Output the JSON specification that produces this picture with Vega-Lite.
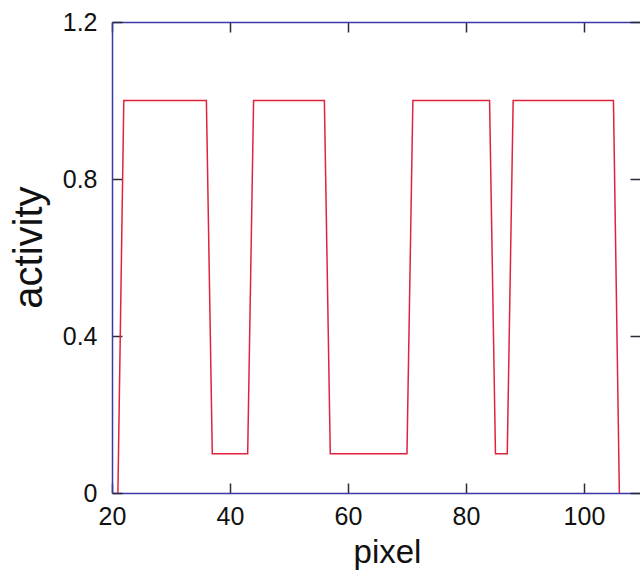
{
  "$schema": "https://vega.github.io/schema/vega-lite/v6.json",
  "autosize": {"type": "none"},
  "padding": {"left": 112, "top": 22, "right": 0, "bottom": 84},
  "width": 528,
  "height": 471,
  "background": "white",
  "config": {
    "view": {"stroke": null},
    "font": "Liberation Sans",
    "axis": {
      "grid": false,
      "labelFont": "Liberation Sans",
      "labelFontSize": 25,
      "labelColor": "#111111",
      "labelFlush": false,
      "labelOverlap": false,
      "titleFont": "Liberation Sans",
      "titleFontWeight": "normal",
      "titleColor": "#111111",
      "domainColor": "#3a3aa6",
      "domainWidth": 1.5,
      "tickColor": "#2a2a3a",
      "tickWidth": 1.5,
      "tickSize": -10
    }
  },
  "data": {
    "values": [
      {"pixel": 21, "activity": 0},
      {"pixel": 22, "activity": 1},
      {"pixel": 23, "activity": 1},
      {"pixel": 24, "activity": 1},
      {"pixel": 25, "activity": 1},
      {"pixel": 26, "activity": 1},
      {"pixel": 27, "activity": 1},
      {"pixel": 28, "activity": 1},
      {"pixel": 29, "activity": 1},
      {"pixel": 30, "activity": 1},
      {"pixel": 31, "activity": 1},
      {"pixel": 32, "activity": 1},
      {"pixel": 33, "activity": 1},
      {"pixel": 34, "activity": 1},
      {"pixel": 35, "activity": 1},
      {"pixel": 36, "activity": 1},
      {"pixel": 37, "activity": 0.1},
      {"pixel": 38, "activity": 0.1},
      {"pixel": 39, "activity": 0.1},
      {"pixel": 40, "activity": 0.1},
      {"pixel": 41, "activity": 0.1},
      {"pixel": 42, "activity": 0.1},
      {"pixel": 43, "activity": 0.1},
      {"pixel": 44, "activity": 1},
      {"pixel": 45, "activity": 1},
      {"pixel": 46, "activity": 1},
      {"pixel": 47, "activity": 1},
      {"pixel": 48, "activity": 1},
      {"pixel": 49, "activity": 1},
      {"pixel": 50, "activity": 1},
      {"pixel": 51, "activity": 1},
      {"pixel": 52, "activity": 1},
      {"pixel": 53, "activity": 1},
      {"pixel": 54, "activity": 1},
      {"pixel": 55, "activity": 1},
      {"pixel": 56, "activity": 1},
      {"pixel": 57, "activity": 0.1},
      {"pixel": 58, "activity": 0.1},
      {"pixel": 59, "activity": 0.1},
      {"pixel": 60, "activity": 0.1},
      {"pixel": 61, "activity": 0.1},
      {"pixel": 62, "activity": 0.1},
      {"pixel": 63, "activity": 0.1},
      {"pixel": 64, "activity": 0.1},
      {"pixel": 65, "activity": 0.1},
      {"pixel": 66, "activity": 0.1},
      {"pixel": 67, "activity": 0.1},
      {"pixel": 68, "activity": 0.1},
      {"pixel": 69, "activity": 0.1},
      {"pixel": 70, "activity": 0.1},
      {"pixel": 71, "activity": 1},
      {"pixel": 72, "activity": 1},
      {"pixel": 73, "activity": 1},
      {"pixel": 74, "activity": 1},
      {"pixel": 75, "activity": 1},
      {"pixel": 76, "activity": 1},
      {"pixel": 77, "activity": 1},
      {"pixel": 78, "activity": 1},
      {"pixel": 79, "activity": 1},
      {"pixel": 80, "activity": 1},
      {"pixel": 81, "activity": 1},
      {"pixel": 82, "activity": 1},
      {"pixel": 83, "activity": 1},
      {"pixel": 84, "activity": 1},
      {"pixel": 85, "activity": 0.1},
      {"pixel": 86, "activity": 0.1},
      {"pixel": 87, "activity": 0.1},
      {"pixel": 88, "activity": 1},
      {"pixel": 89, "activity": 1},
      {"pixel": 90, "activity": 1},
      {"pixel": 91, "activity": 1},
      {"pixel": 92, "activity": 1},
      {"pixel": 93, "activity": 1},
      {"pixel": 94, "activity": 1},
      {"pixel": 95, "activity": 1},
      {"pixel": 96, "activity": 1},
      {"pixel": 97, "activity": 1},
      {"pixel": 98, "activity": 1},
      {"pixel": 99, "activity": 1},
      {"pixel": 100, "activity": 1},
      {"pixel": 101, "activity": 1},
      {"pixel": 102, "activity": 1},
      {"pixel": 103, "activity": 1},
      {"pixel": 104, "activity": 1},
      {"pixel": 105, "activity": 1},
      {"pixel": 106, "activity": 0}
    ]
  },
  "layer": [
    {
      "mark": {"type": "line", "color": "#e0233c", "strokeWidth": 1.5, "clip": true},
      "encoding": {
        "x": {
          "field": "pixel", "type": "quantitative",
          "scale": {"domain": [20, 109.5], "nice": false, "zero": false},
          "axis": {
            "orient": "bottom", "title": "pixel", "values": [20, 40, 60, 80, 100], "format": "d",
            "labelPadding": 21, "titleFontSize": 33,
            "titleX": 275, "titleY": 69, "titleBaseline": "alphabetic"
          }
        },
        "y": {
          "field": "activity", "type": "quantitative",
          "scale": {"domain": [0, 1.2], "nice": false, "zero": true},
          "axis": {
            "orient": "left", "title": "activity", "values": [0, 0.4, 0.8, 1.2], "format": "~g",
            "labelPadding": 25, "titleFontSize": 40,
            "titleX": -71, "titleY": 225, "titleBaseline": "alphabetic", "titleAngle": -90
          }
        }
      }
    },
    {
      "mark": {"type": "line", "strokeOpacity": 0},
      "encoding": {
        "x": {
          "field": "pixel", "type": "quantitative",
          "axis": {"orient": "top", "title": null, "labels": false, "values": [20, 40, 60, 80, 100]}
        },
        "y": {
          "field": "activity", "type": "quantitative",
          "axis": {"orient": "right", "title": null, "labels": false, "domain": false, "values": [0, 0.4, 0.8, 1.2]}
        }
      }
    }
  ],
  "resolve": {"axis": {"x": "independent", "y": "independent"}}
}
